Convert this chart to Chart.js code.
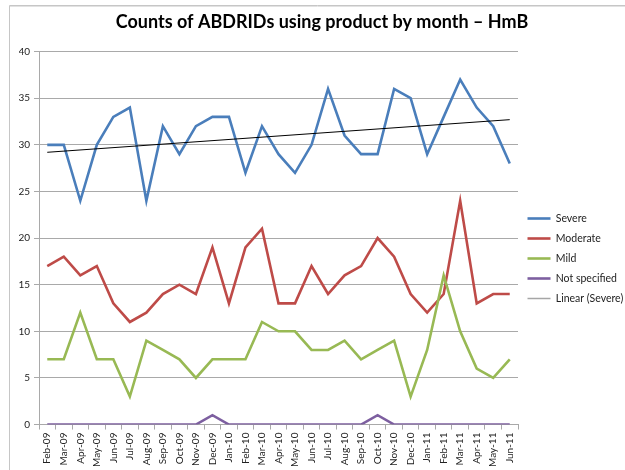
<!DOCTYPE html>
<html>
<head>
<meta charset="utf-8">
<script src="https://cdn.jsdelivr.net/npm/chart.js@4"></script>
<style>
  html, body { margin: 0; padding: 0; background: #fff; }
  #wrap { width: 625px; height: 470px; }
</style>
</head>
<body>
<div id="wrap"><canvas id="chart" width="625" height="470"></canvas></div>
<script>
// данные графика
const months = ["Feb-09","Mar-09","Apr-09","May-09","Jun-09","Jul-09","Aug-09","Sep-09","Oct-09","Nov-09","Dec-09","Jan-10",
  "Feb-10","Mar-10","Apr-10","May-10","Jun-10","Jul-10","Aug-10","Sep-10","Oct-10","Nov-10","Dec-10","Jan-11",
  "Feb-11","Mar-11","Apr-11","May-11","Jun-11"];
const severe =       [30,30,24,30,33,34,24,32,29,32,33,33,27,32,29,27,30,36,31,29,29,36,35,29,33,37,34,32,28];
const moderate =     [17,18,16,17,13,11,12,14,15,14,19,13,19,21,13,13,17,14,16,17,20,18,14,12,14,24,13,14,14];
const mild =         [7,7,12,7,7,3,9,8,7,5,7,7,7,11,10,10,8,8,9,7,8,9,3,8,16,10,6,5,7];
const notSpecified = [0,0,0,0,0,0,0,0,0,0,1,0,0,0,0,0,0,0,0,0,1,0,0,0,0,0,0,0,0];
// линия тренда: только концы
const trendSevere =  [29.2,null,null,null,null,null,null,null,null,null,null,null,null,null,null,null,null,null,null,null,null,null,null,null,null,null,null,null,32.7];
const yTicks = [0, 5, 10, 15, 20, 25, 30, 35, 40];

const gridGray = "#a9a9a9";
const textColor = "#222";

// рамка вокруг диаграммы (как в Excel)
const framePlugin = {
    id: "frame",
    beforeDraw(chart) {
        const ctx = chart.ctx;
        ctx.save();
        ctx.strokeStyle = "#c6c6c6";
        ctx.lineWidth = 1;
        ctx.beginPath();
        ctx.moveTo(9.5, 470);
        ctx.lineTo(9.5, 5.5);
        ctx.lineTo(625, 5.5);
        ctx.stroke();
        ctx.strokeStyle = "#e2e2e2";
        ctx.beginPath();
        ctx.moveTo(10, 6.5);
        ctx.lineTo(625, 6.5);
        ctx.stroke();
        ctx.restore();
    }
};

function lineSet(label, data, color, order) {
    return {
        label: label,
        data: data,
        borderColor: color,
        backgroundColor: color,
        borderWidth: 2.6,
        pointRadius: 0,
        tension: 0,
        order: order
    };
}

new Chart(document.getElementById("chart"), {
    type: "line",
    data: {
        labels: months,
        datasets: [
            lineSet("Severe", severe, "#4A7EBB", 5),
            lineSet("Moderate", moderate, "#BE4B48", 4),
            lineSet("Mild", mild, "#98B954", 3),
            lineSet("Not specified", notSpecified, "#7D5FA0", 2),
            {
                label: "Linear (Severe)",
                data: trendSevere,
                borderColor: "#000",
                backgroundColor: "#000",
                borderWidth: 1,
                pointRadius: 0,
                spanGaps: true,
                order: 1
            }
        ]
    },
    options: {
        responsive: false,
        animation: false,
        layout: { padding: { left: 19, right: 0, top: 0, bottom: 0 } },
        plugins: {
            title: {
                display: true,
                text: "Counts of ABDRIDs using product by month – HmB",
                color: "#000",
                font: { family: "Lato", size: 18, weight: "bold" },
                padding: { top: 11, bottom: 19 }
            },
            legend: {
                position: "right",
                maxWidth: 107,
                title: {
                    display: true,
                    text: " ",
                    font: { family: "Lato", size: 10 },
                    padding: { top: 35, bottom: 0 }
                },
                labels: {
                    font: { family: "Lato", size: 10.5 },
                    color: textColor,
                    usePointStyle: true,
                    pointStyleWidth: 23,
                    boxHeight: 11,
                    padding: 9.5,
                    sort: (a, b) => a.datasetIndex - b.datasetIndex,
                    generateLabels(chart) {
                        const items = Chart.defaults.plugins.legend.labels.generateLabels(chart);
                        items.forEach((item) => {
                            item.pointStyle = "line";
                            if (item.datasetIndex === 4) {
                                item.strokeStyle = "#a6a6a6";
                                item.lineWidth = 1.5;
                            }
                        });
                        return items;
                    }
                }
            },
            tooltip: { enabled: false }
        },
        scales: {
            x: {
                offset: true,
                grid: {
                    offset: true,
                    drawOnChartArea: false,
                    drawTicks: true,
                    tickLength: 5,
                    color: gridGray
                },
                border: { color: gridGray },
                ticks: {
                    autoSkip: false,
                    maxRotation: 90,
                    minRotation: 90,
                    padding: 3,
                    color: textColor,
                    font: { family: "Lato", size: 10 }
                }
            },
            y: {
                min: 0,
                max: 40,
                afterBuildTicks(axis) {
                    axis.ticks = yTicks.map((v) => ({ value: v }));
                },
                afterFit(axis) {
                    axis.width = 20;
                },
                grid: {
                    color: gridGray,
                    tickLength: 5
                },
                border: { color: gridGray },
                ticks: {
                    padding: 4,
                    color: textColor,
                    font: { family: "Lato", size: 10 }
                }
            }
        }
    },
    plugins: [framePlugin]
});
</script>
</body>
</html>
